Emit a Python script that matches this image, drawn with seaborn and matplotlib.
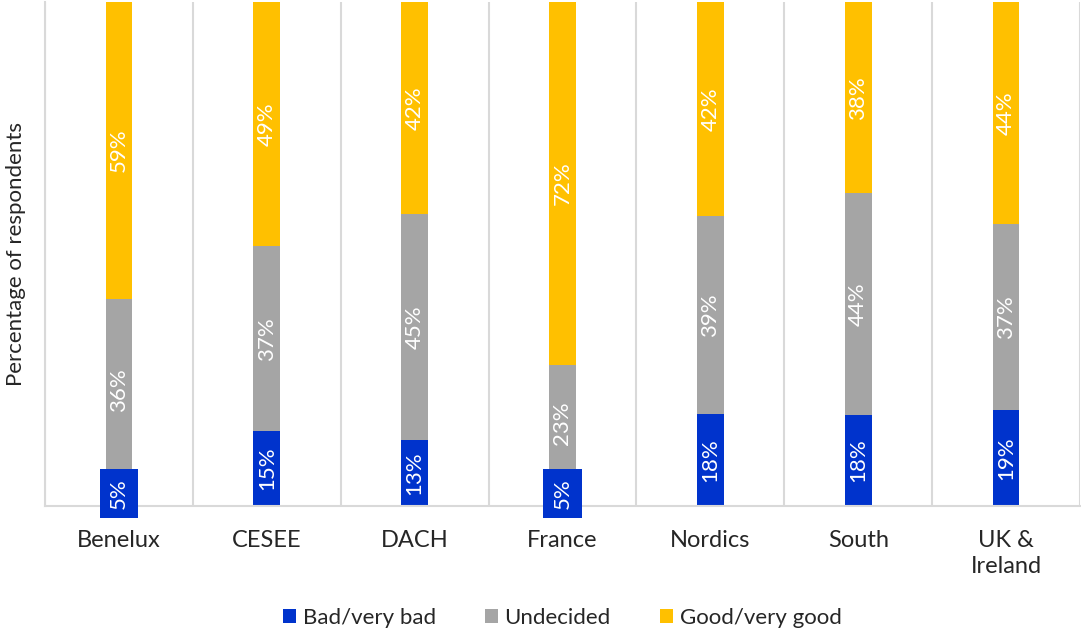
import numpy as np
import pandas as pd
import matplotlib
matplotlib.use("Agg")
import matplotlib.pyplot as plt
import seaborn as sns
from matplotlib.patches import Patch

categories = ["Benelux", "CESEE", "DACH", "France", "Nordics", "South", "UK &\nIreland"]
bad = [5, 15, 13, 5, 18, 18, 19]
undecided = [36, 37, 45, 23, 39, 44, 37]
good = [59, 49, 42, 72, 42, 38, 44]
series_names = ["Bad/very bad", "Undecided", "Good/very good"]
colors = ["#0033CC", "#A5A5A5", "#FFC000"]

sns.set_theme(style="white")
plt.rcParams["font.family"] = ["Lato", "DejaVu Sans"]

fig = plt.figure(figsize=(10.81, 6.34), dpi=100)
ax = fig.add_axes([0.0416, 0.202, 0.9575, 0.795])

vals = np.array([bad, undecided, good], dtype=float)
totals = vals.sum(axis=0)
shares = vals / totals * 100
cum = np.cumsum(shares, axis=0)

width = 0.18
for i in [2, 1, 0]:
    df = pd.DataFrame({"cat": categories, "v": cum[i]})
    sns.barplot(data=df, x="cat", y="v", color=colors[i], width=width,
                saturation=1, ax=ax, zorder=2, linewidth=0)

for j, cat in enumerate(categories):
    bottom = 0
    for i in range(3):
        h = shares[i, j]
        yc = bottom + h / 2
        kw = {}
        if i == 0 and vals[i, j] < 10:
            kw["bbox"] = dict(boxstyle="square,pad=0.42", fc=colors[0], ec="none")
        ax.text(j, yc, f"{int(vals[i, j])}%", rotation=90, ha="center", va="center",
                color="white", fontsize=16, zorder=5, clip_on=False, **kw)
        bottom += h

ax.set_ylim(0, 100)
ax.set_xlim(-0.5, len(categories) - 0.5)
ax.set_yticks([])
ax.set_xlabel("")
ax.set_ylabel("Percentage of respondents", fontsize=16, color="#262626", labelpad=14)
ax.set_xticks(range(len(categories)))
ax.set_xticklabels(categories, fontsize=17, color="#262626", linespacing=1.35)
ax.tick_params(axis="x", length=0, pad=17)
for k in np.arange(-0.5, len(categories) + 0.5, 1):
    ax.axvline(k, color="#D9D9D9", lw=1.5, zorder=1)
for s in ["top", "right"]:
    ax.spines[s].set_visible(False)
ax.spines["left"].set_color("#D9D9D9")
ax.spines["bottom"].set_color("#D9D9D9")
ax.spines["left"].set_linewidth(1.5)
ax.spines["bottom"].set_linewidth(1.5)

handles = [Patch(facecolor=c, edgecolor="none") for c in colors]
fig.legend(handles, series_names, loc="center", bbox_to_anchor=(0.52, 0.025),
           ncol=3, frameon=False, fontsize=16, handlelength=0.6, handleheight=0.6,
           handletextpad=0.3, columnspacing=2.2, labelcolor="#262626")

fig.savefig("out.png", dpi=100)
